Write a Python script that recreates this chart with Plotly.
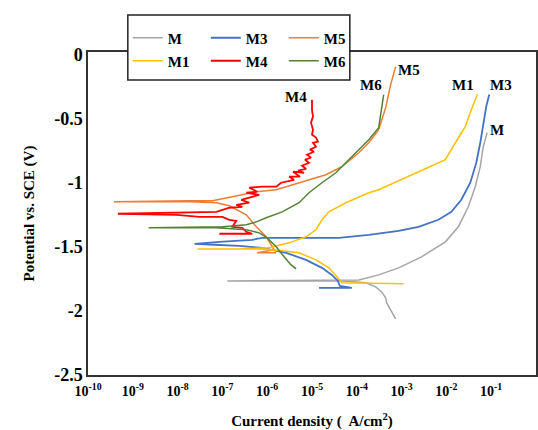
import numpy as np
import plotly.graph_objects as go

# ---- data (log10 of current density [A/cm2], potential [V vs SCE]) ----
M_logi = [-3.133, -3.244, -3.333, -3.356, -3.444, -3.578, -3.8, -4.067, -4.333, -6.889,
          -3.956, -3.511, -3.067, -2.556, -2.022, -1.733, -1.511, -1.356, -1.244, -1.178, -1.111, -1.089]
M_E = [-2.062, -1.992, -1.938, -1.898, -1.852, -1.812, -1.781, -1.773, -1.766, -1.766,
       -1.758, -1.719, -1.664, -1.578, -1.461, -1.344, -1.188, -1.031, -0.875, -0.719, -0.641, -0.609]

M1_logi = [-2.956, -4.333, -4.444, -4.622, -4.911, -5.289, -5.667, -6.178, -7.067, -7.556,
           -6.622, -5.956, -5.511, -5.133, -4.911, -4.778, -4.622, -4.244, -3.733, -3.511,
           -2.911, -2.333, -2.022, -1.8, -1.578, -1.444, -1.311]
M1_E = [-1.789, -1.781, -1.734, -1.664, -1.602, -1.547, -1.531, -1.516, -1.516, -1.516,
        -1.516, -1.508, -1.469, -1.422, -1.367, -1.289, -1.227, -1.156, -1.078, -1.055,
        -0.961, -0.875, -0.820, -0.688, -0.562, -0.430, -0.312]

M3_logi = [-4.844, -4.111, -4.378, -4.422, -4.556, -4.778, -5.133, -5.578, -6.111, -6.622,
           -7.178, -7.622, -7.067, -6.333, -6.111, -5.289, -4.4, -3.733, -3.067, -2.622,
           -2.178, -1.889, -1.667, -1.467, -1.333, -1.244, -1.178, -1.111, -1.044]
M3_E = [-1.820, -1.820, -1.805, -1.766, -1.719, -1.664, -1.602, -1.547, -1.508, -1.492,
        -1.484, -1.477, -1.461, -1.445, -1.430, -1.430, -1.430, -1.406, -1.375, -1.344,
        -1.289, -1.227, -1.133, -1.0, -0.844, -0.688, -0.531, -0.406, -0.312]

M4_logi = [-7.067, -6.333, -6.467, -6.556, -6.778, -6.689, -6.844, -7.0, -7.511, -8.022,
           -9.333, -7.733, -7.133, -6.844, -6.556, -6.689, -6.4, -6.578, -6.178, -6.467,
           -6.222, -6.4, -6.111, -5.8, -5.689, -5.4, -5.511, -5.267, -5.422, -5.178,
           -5.311, -5.133, -5.222, -5.067, -5.156, -5.022, -5.111, -4.956, -5.044, -4.911,
           -4.978, -4.867, -4.911, -5.0, -4.978, -5.022, -4.978, -5.0, -5.0]
M4_E = [-1.398, -1.398, -1.383, -1.352, -1.344, -1.297, -1.289, -1.266, -1.266, -1.250,
        -1.242, -1.234, -1.227, -1.195, -1.188, -1.172, -1.156, -1.133, -1.094, -1.078,
        -1.070, -1.039, -1.031, -1.031, -1.0, -0.977, -0.953, -0.953, -0.914, -0.922,
        -0.906, -0.891, -0.867, -0.844, -0.820, -0.805, -0.781, -0.758, -0.742, -0.719,
        -0.688, -0.680, -0.648, -0.625, -0.586, -0.531, -0.484, -0.430, -0.352]

M5_logi = [-5.8, -6.222, -5.844, -6.022, -6.244, -6.467, -6.844, -7.133, -7.733, -9.422,
           -7.733, -7.222, -6.778, -6.244, -5.8, -5.289, -4.689, -4.333, -3.956, -3.733,
           -3.511, -3.356, -3.244, -3.133]
M5_E = [-1.547, -1.547, -1.523, -1.422, -1.344, -1.250, -1.180, -1.156, -1.148, -1.148,
        -1.141, -1.141, -1.109, -1.070, -1.055, -1.0, -0.938, -0.875, -0.766, -0.688,
        -0.586, -0.414, -0.234, -0.094]

M6_logi = [-5.356, -5.467, -5.622, -5.8, -6.0, -6.178, -6.467, -7.133, -8.644,
           -7.0, -6.467, -6.244, -6.022, -5.667, -5.289, -5.067, -4.778, -4.467, -4.178,
           -3.956, -3.733, -3.511, -3.444, -3.4]
M6_E = [-1.672, -1.641, -1.578, -1.5, -1.430, -1.391, -1.367, -1.352, -1.352,
        -1.344, -1.328, -1.305, -1.273, -1.227, -1.156, -1.078, -1.0, -0.922, -0.820,
        -0.742, -0.664, -0.570, -0.430, -0.312]

series_names = ["M", "M3", "M5", "M1", "M4", "M6"]
series_data = {
    "M": (M_logi, M_E), "M1": (M1_logi, M1_E), "M3": (M3_logi, M3_E),
    "M4": (M4_logi, M4_E), "M5": (M5_logi, M5_E), "M6": (M6_logi, M6_E),
}
colors = {"M": "#A5A5A5", "M1": "#FFC000", "M3": "#4472C4",
          "M4": "#FF0000", "M5": "#ED7D31", "M6": "#548235"}
widths = {"M": 1.5, "M1": 1.5, "M3": 1.8, "M4": 1.8, "M5": 1.5, "M6": 1.5}
legend_of = {"M": "legend", "M3": "legend", "M5": "legend",
             "M1": "legend2", "M4": "legend2", "M6": "legend2"}

# curve end labels (log10 i, E)
label_pos = {"M4": (-5.36, -0.33), "M6": (-3.69, -0.24), "M5": (-2.84, -0.12),
             "M1": (-1.62, -0.24), "M3": (-0.78, -0.24), "M": (-0.87, -0.59)}

x_tick_exp = list(range(-10, 1))
y_ticks = [0, -0.5, -1, -1.5, -2, -2.5]
y_tick_text = ["0", "-0.5", "-1", "-1.5", "-2", "-2.5"]

SERIF = "Liberation Serif"

fig = go.Figure()
for name in series_names:
    li, e = series_data[name]
    fig.add_trace(go.Scatter(
        x=10 ** np.array(li), y=e, mode="lines", name="<b>%s</b>" % name,
        line=dict(color=colors[name], width=widths[name]),
        legend=legend_of[name],
    ))

for name, (lx, ly) in label_pos.items():
    fig.add_annotation(x=lx, y=ly, xref="x", yref="y", text="<b>%s</b>" % name,
                       showarrow=False, font=dict(family=SERIF, size=15, color="black"))

L, R, T, B = 88, 0, 52, 55
W, H = 538, 430
pw, ph = W - L - R, H - T - B

def px2paper(x, y):
    return (x - L) / pw, (H - B - y) / ph

x0, y0 = px2paper(128, 15)
x1, y1 = px2paper(351, 80)
fig.add_shape(type="rect", xref="paper", yref="paper", x0=x0, y0=y1, x1=x1, y1=y0,
              line=dict(color="#222222", width=1.5), fillcolor="white", layer="above")

lgx, lg1y = px2paper(128, 38)
_, lg2y = px2paper(128, 61)
leg_common = dict(orientation="h", x=lgx, xanchor="left", yanchor="middle",
                  bgcolor="rgba(0,0,0,0)", borderwidth=0,
                  font=dict(family=SERIF, size=15, color="black"),
                  entrywidth=33, entrywidthmode="pixels", itemwidth=30)

fig.update_layout(
    width=W, height=H,
    margin=dict(l=L, r=R, t=T, b=B),
    paper_bgcolor="white", plot_bgcolor="white",
    legend=dict(y=lg1y, **leg_common),
    legend2=dict(y=lg2y, **leg_common),
    font=dict(family=SERIF, color="black"),
)
fig.update_xaxes(
    type="log", range=[-10, 0], showgrid=False, zeroline=False,
    showline=True, linecolor="#333333", linewidth=1.5, mirror=True,
    tickvals=[10.0 ** k for k in x_tick_exp],
    ticktext=["<b>10<sup>%d</sup></b>" % k for k in x_tick_exp],
    tickfont=dict(family=SERIF, size=14, color="black"), ticks="",
    ticklabelstandoff=2,
    title=dict(text="<b>Current density (  A/cm<sup>2</sup>)</b>", standoff=20,
               font=dict(family=SERIF, size=15, color="black")),
)
fig.update_yaxes(
    range=[-2.5, 0.02], showgrid=False, zeroline=False,
    showline=True, linecolor="#333333", linewidth=1.5, mirror=True,
    tickvals=y_ticks, ticktext=["<b>%s</b>" % t for t in y_tick_text],
    tickfont=dict(family=SERIF, size=18, color="black"), ticks="",
    title=dict(text="<b>Potential vs. SCE (V)</b>", standoff=16,
               font=dict(family=SERIF, size=15, color="black")),
)

fig.write_html("out.html")
